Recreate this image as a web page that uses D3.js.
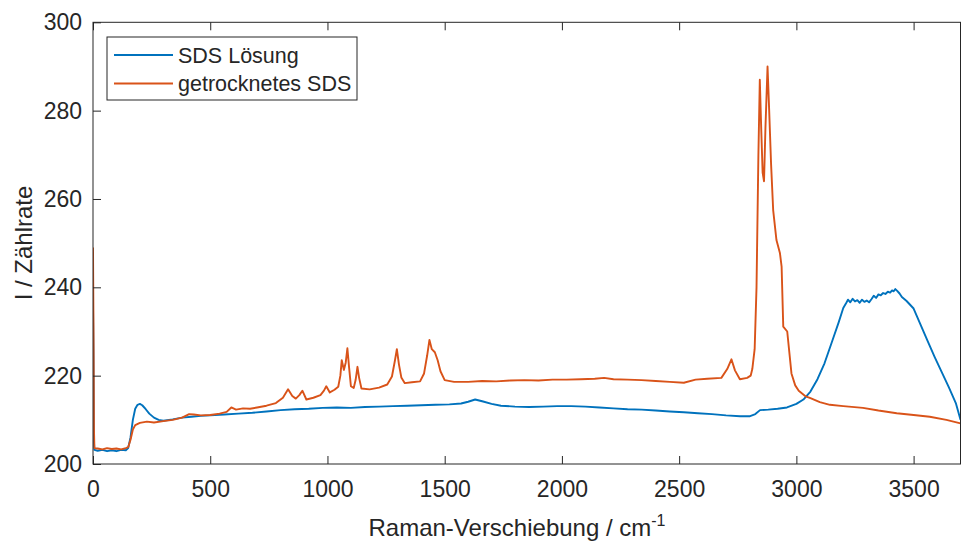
<!DOCTYPE html>
<html>
<head>
<meta charset="utf-8">
<script src="https://cdn.jsdelivr.net/npm/d3@7"></script>
<style>
body { margin: 0; background: #fff; }
text { font-family: "Liberation Sans", Arial, sans-serif; fill: #262626; }
</style>
</head>
<body>
<div id="container"></div>
<script>
// Raman-Spektren, Werte
var xTicks = [0, 500, 1000, 1500, 2000, 2500, 3000, 3500];
var yTicks = [200, 220, 240, 260, 280, 300];
var seriesNames = ["SDS Lösung", "getrocknetes SDS"];

var loesungX = [0, 2, 4, 6, 20, 40, 60, 80, 100, 120, 140, 150, 160, 170, 180, 190, 200, 210, 225, 240, 260, 280, 300, 340, 380, 420, 460, 500, 560, 620, 680, 740, 800, 860, 920, 980, 1040, 1100, 1160, 1220, 1280, 1340, 1400, 1460, 1520, 1570, 1600, 1630, 1660, 1700, 1740, 1800, 1860, 1920, 1980, 2040, 2100, 2160, 2220, 2280, 2340, 2400, 2460, 2520, 2580, 2640, 2700, 2760, 2800, 2825, 2845, 2880, 2920, 2960, 3000, 3030, 3060, 3090, 3120, 3150, 3180, 3200, 3210, 3220, 3230, 3240, 3250, 3260, 3270, 3280, 3290, 3300, 3310, 3320, 3330, 3340, 3350, 3360, 3370, 3380, 3390, 3400, 3408, 3415, 3422, 3430, 3440, 3450, 3470, 3500, 3530, 3560, 3590, 3620, 3650, 3680, 3700];
var loesungY = [236, 225, 205, 203.2, 203.0, 203.2, 202.9, 203.1, 202.9, 203.2, 203.1, 203.6, 206, 210, 212.5, 213.4, 213.6, 213.3, 212.4, 211.4, 210.5, 210, 209.8, 210.1, 210.5, 210.7, 210.9, 211, 211.2, 211.4, 211.6, 211.9, 212.2, 212.4, 212.5, 212.7, 212.8, 212.7, 212.9, 213, 213.1, 213.2, 213.3, 213.4, 213.5, 213.7, 214.1, 214.6, 214.2, 213.6, 213.2, 213, 212.9, 213, 213.1, 213.1, 213, 212.8, 212.6, 212.4, 212.3, 212.1, 211.9, 211.7, 211.5, 211.3, 211, 210.8, 210.8, 211.3, 212.2, 212.3, 212.5, 212.8, 213.6, 214.6, 216.4, 219.2, 222.8, 227.4, 232, 235.3, 236.2, 237.2, 236.6, 237.4, 236.8, 237.1, 236.5, 237.2, 236.7, 237, 236.6, 237.3, 238.1, 237.6, 238.4, 238.2, 238.7, 238.5, 239, 238.8, 239.3, 239.1, 239.6, 239.2, 238.6, 237.8, 236.9, 235.2, 231.5, 227.8, 224.2, 220.8, 217.4, 213.8, 210, 207.5];

var trockenX = [0, 2, 4, 6, 20, 40, 60, 80, 100, 120, 140, 150, 160, 170, 180, 200, 230, 260, 300, 340, 380, 410, 430, 460, 500, 540, 570, 590, 610, 640, 670, 700, 740, 780, 810, 832, 850, 865, 880, 893, 910, 940, 970, 985, 995, 1010, 1030, 1046, 1055, 1061, 1070, 1078, 1085, 1092, 1100, 1112, 1120, 1128, 1135, 1145, 1180, 1220, 1255, 1275, 1288, 1296, 1305, 1315, 1330, 1360, 1395, 1412, 1425, 1435, 1445, 1458, 1470, 1482, 1500, 1540, 1600, 1660, 1720, 1780, 1840, 1900, 1960, 2020, 2080, 2140, 2180, 2220, 2280, 2340, 2400, 2460, 2520, 2570, 2620, 2680, 2705, 2723, 2738, 2759, 2790, 2805, 2812, 2822, 2830, 2838, 2844, 2850, 2856, 2862, 2868, 2877, 2884, 2892, 2901, 2915, 2930, 2937, 2944, 2961, 2969, 2979, 2995, 3010, 3040, 3060, 3100, 3143, 3200, 3284, 3350, 3428, 3500, 3569, 3640, 3700];
var trockenY = [249, 232, 208, 203.6, 203.5, 203.3, 203.6, 203.4, 203.5, 203.3, 203.6, 203.8, 205.5, 207.8, 208.8, 209.3, 209.6, 209.4, 209.7, 210, 210.5, 211.3, 211.2, 211, 211.1, 211.4, 211.8, 212.8, 212.3, 212.6, 212.5, 212.8, 213.2, 213.8, 215, 216.9, 215.4, 214.8, 215.6, 216.6, 214.6, 215, 215.6, 216.6, 217.6, 216.2, 216.8, 217.5, 220, 223.5, 221.3, 223, 226.2, 222, 217.6, 217.2, 219, 222, 219.5, 217.1, 216.9, 217.3, 218, 219.8, 223.5, 226, 222.5, 219.6, 218.3, 218.5, 218.7, 220.5, 224.5, 228.1, 226, 225.3, 223.5, 221, 219, 218.6, 218.6, 218.8, 218.7, 218.9, 219, 218.9, 219.1, 219.1, 219.2, 219.3, 219.5, 219.2, 219.1, 219, 218.8, 218.6, 218.4, 219.1, 219.3, 219.5, 221.5, 223.7, 221.2, 219.2, 219.5, 220, 221.5, 226, 240, 270, 287, 276, 266, 264, 276, 290, 280, 268, 257.5, 250.7, 247.7, 244.7, 231.1, 230, 225.8, 220.5, 217.8, 216.6, 215.3, 214.9, 214, 213.4, 213.1, 212.7, 212.1, 211.5, 211.1, 210.7, 210, 209.2];

var colors = ["#0072BD", "#D95319"];

var width = 961, height = 546;
var plotLeft = 93, plotRight = 960.5, plotTop = 22.3, plotBottom = 464;

var svg = d3.select("#container").append("svg")
		.attr("width", width)
		.attr("height", height)

var x = d3.scaleLinear().domain([0, 3700]).range([plotLeft, plotRight]);
var y = d3.scaleLinear().domain([200, 300]).range([plotBottom, plotTop]);

svg.append("defs").append("clipPath")
		.attr("id", "plot-clip")
		.append("rect")
		.attr("x", plotLeft).attr("y", plotTop)
		.attr("width", plotRight - plotLeft).attr("height", plotBottom - plotTop)

var series = [
		d3.zip(loesungX, loesungY),
		d3.zip(trockenX, trockenY)
]

var line = d3.line()
		.x(function(d) { return x(d[0]) })
		.y(function(d) { return y(d[1]) })

svg.append("g").attr("clip-path", "url(#plot-clip)")
		.selectAll("path")
		.data(series)
		.enter().append("path")
		.attr("d", line)
		.attr("fill", "none")
		.attr("stroke", function(d, i) { return colors[i] })
		.attr("stroke-width", 1.9)
		.attr("stroke-linejoin", "round")

// axes, MATLAB style: ticks pointing inward, box all round
function styleAxis(g) {
		g.select(".domain").remove()
		g.selectAll("line").attr("stroke", "#262626")
		g.selectAll("text")
				.attr("font-size", 23)
				.attr("fill", "#262626")
}

svg.append("g")
		.attr("transform", "translate(0," + plotBottom + ")")
		.call(d3.axisBottom(x).tickValues(xTicks).tickFormat(d3.format("d"))
				.tickSizeInner(-8).tickSizeOuter(0).tickPadding(17))
		.call(styleAxis)

svg.append("g")
		.attr("transform", "translate(0," + plotTop + ")")
		.call(d3.axisTop(x).tickValues(xTicks).tickSizeInner(-8).tickSizeOuter(0).tickFormat(""))
		.call(styleAxis)

svg.append("g")
		.attr("transform", "translate(" + plotLeft + ",0)")
		.call(d3.axisLeft(y).tickValues(yTicks).tickFormat(d3.format("d"))
				.tickSizeInner(-8).tickSizeOuter(0).tickPadding(11))
		.call(styleAxis)

svg.append("rect")
		.attr("x", plotLeft).attr("y", plotTop)
		.attr("width", plotRight - plotLeft).attr("height", plotBottom - plotTop)
		.attr("fill", "none")
		.attr("stroke", "#262626")
		.attr("stroke-width", 1)

// axis labels
var xl = svg.append("text")
		.attr("x", 517)
		.attr("y", 536)
		.attr("text-anchor", "middle")
		.attr("font-size", 24)
xl.append("tspan").text("Raman-Verschiebung / cm")
xl.append("tspan").attr("dy", -10).attr("font-size", 16).text("-1")

svg.append("text")
		.attr("transform", "translate(32,243) rotate(-90)")
		.attr("text-anchor", "middle")
		.attr("font-size", 24)
		.text("I / Zählrate")

// legend
var legend = svg.append("g")

legend.append("rect")
		.attr("x", 107).attr("y", 37)
		.attr("width", 250).attr("height", 63)
		.attr("fill", "#fff")
		.attr("stroke", "#262626")
		.attr("stroke-width", 1)

var item = legend.selectAll("g.item")
		.data(seriesNames)
		.enter().append("g")
		.attr("class", "item")
		.attr("transform", function(d, i) { return "translate(0," + (55 + i * 28.5) + ")" })

item.append("line")
		.attr("x1", 114).attr("x2", 173)
		.attr("stroke", function(d, i) { return colors[i] })
		.attr("stroke-width", 1.9)

item.append("text")
		.attr("x", 178)
		.attr("dy", "0.35em")
		.attr("font-size", 21.5)
		.text(function(d) { return d })
</script>
</body>
</html>
